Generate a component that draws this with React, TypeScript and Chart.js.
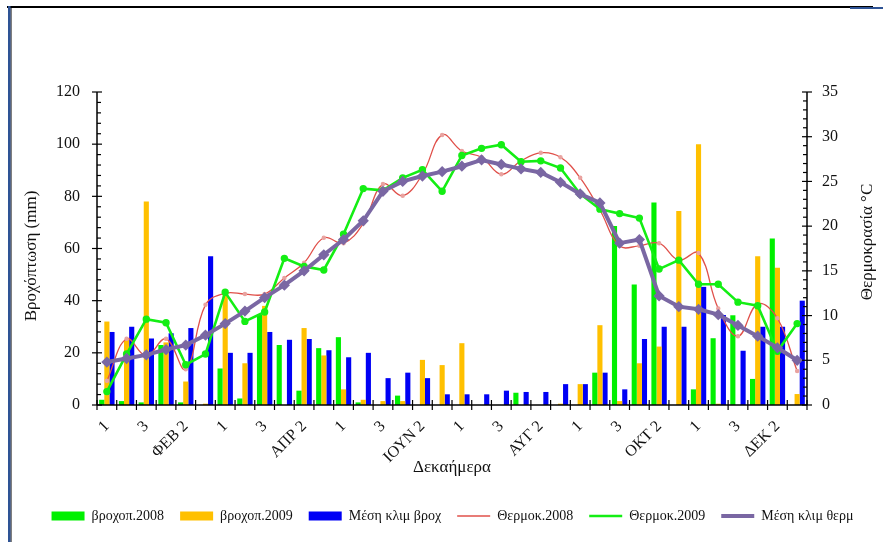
import React, { useEffect, useRef } from 'react';
import { Chart, registerables } from 'chart.js';

Chart.register(...registerables);

// ---- data ----
const dekadLabels = [
  '1', 'ΙΑΝ 2', '3', '1', 'ΦΕΒ 2', '3', '1', 'ΜΑΡ 2', '3', '1', 'ΑΠΡ 2', '3',
  '1', 'ΜΑΪ 2', '3', '1', 'ΙΟΥΝ 2', '3', '1', 'ΙΟΥΛ 2', '3', '1', 'ΑΥΓ 2', '3',
  '1', 'ΣΕΠ 2', '3', '1', 'ΟΚΤ 2', '3', '1', 'ΝΟΕ 2', '3', '1', 'ΔΕΚ 2', '3',
];

const rain2008 = [
  2, 1.5, 1, 23, 1, 0, 14, 2.5, 34.5, 23, 5.5, 21.8,
  26, 1, 0, 3.6, 0, 0, 0, 0, 0, 4.7, 0, 0,
  0, 12.4, 68.6, 46.2, 77.6, 0, 6, 25.6, 34.4, 10, 63.8, 0,
];
const rain2009 = [
  32, 25, 78, 24, 9, 0.5, 43, 16, 38, 0, 29.5, 19,
  6, 2, 1.5, 1.5, 17.3, 15.3, 23.7, 0, 0, 0, 0, 0.5,
  8, 30.6, 1.5, 16, 22.4, 74.4, 100, 0.5, 0, 57, 52.6, 4.2,
];
const climRain = [
  28, 30, 25.5, 27.5, 29.5, 57, 20, 20, 28, 25, 25.3, 21,
  18.3, 20, 10.3, 12.4, 10.3, 4.1, 4.1, 4.1, 5.5, 5, 5, 8,
  8, 12.4, 6, 25.3, 30, 30, 45.3, 34.5, 20.8, 30, 30, 40,
];
const temp2008 = [
  2.7, 7.4, 5.5, 7.4, 4.0, 11.2, 12.5, 12.4, 12.4, 14.2, 15.9, 18.7,
  18.1, 20.3, 24.7, 23.4, 25.8, 30.2, 28.4, 27.7, 25.8, 27.3, 28.2, 27.7,
  25.4, 21.8, 17.8, 17.8, 18.1, 16.2, 17.0, 10.8, 7.7, 11.3, 9.7, 3.8,
];
const temp2009 = [
  1.5, 5.7, 9.6, 9.2, 4.5, 5.7, 12.6, 9.35, 10.4, 16.4, 15.5, 15.1,
  19.1, 24.2, 24.0, 25.4, 26.3, 23.9, 27.9, 28.7, 29.1, 27.2, 27.3, 26.5,
  23.6, 21.9, 21.4, 20.9, 15.2, 16.2, 13.5, 13.5, 11.5, 11.1, 6.0, 9.1,
];
const climTemp = [
  4.8, 5.2, 5.6, 6.2, 6.7, 7.8, 9.1, 10.5, 12.0, 13.4, 15.0, 16.8,
  18.5, 20.6, 23.9, 25.0, 25.6, 26.1, 26.7, 27.4, 26.9, 26.4, 26.0, 24.9,
  23.6, 22.6, 18.1, 18.5, 12.2, 11.0, 10.7, 10.1, 8.9, 7.7, 6.4, 5.0,
];

const rainMax = 120;
const rainStep = 20;
const rainMinor = 4;
const tempMax = 35;
const tempStep = 5;
const tempMinor = 1;

const FONT = '"Liberation Serif", "Times New Roman", serif';

const decorPlugin = {
  id: 'decor',
  beforeDraw(chart: any) {
    const ctx = chart.ctx;
    ctx.save();
    ctx.fillStyle = '#ffffff';
    ctx.fillRect(0, 0, chart.width, chart.height);
    ctx.restore();
  },
  afterDatasetsDraw(chart: any) {
    const ctx = chart.ctx;
    const { left, right, top, bottom } = chart.chartArea;
    const ys = chart.scales.y;
    const y1s = chart.scales.y1;
    const xs = chart.scales.x;
    ctx.save();
    ctx.strokeStyle = '#000';
    ctx.lineWidth = 1.5;
    const line = (a: number, b: number, c: number, d: number) => {
      ctx.beginPath();
      ctx.moveTo(a, b);
      ctx.lineTo(c, d);
      ctx.stroke();
    };
    line(left, top, left, bottom);
    line(right, top, right, bottom);
    line(left, bottom, right, bottom);
    ctx.lineWidth = 1.2;
    for (let v = 0; v <= rainMax; v += rainMinor) {
      const py = ys.getPixelForValue(v);
      if (v % rainStep === 0) line(left - 5, py, left + 5, py);
      else line(left, py, left + 4, py);
    }
    for (let v = 0; v <= tempMax; v += tempMinor) {
      const py = y1s.getPixelForValue(v);
      if (v % tempStep === 0) line(right - 5, py, right + 5, py);
      else line(right - 4, py, right, py);
    }
    const n = dekadLabels.length;
    const c0 = xs.getPixelForValue(0);
    const c1 = xs.getPixelForValue(1);
    const w = c1 - c0;
    for (let i = 0; i <= n; i++) {
      const px = c0 - w / 2 + i * w;
      line(px, bottom - 5, px, bottom + 5);
    }
    ctx.restore();
  },
  afterDraw(chart: any) {
    const ctx = chart.ctx;
    // outer frame fragments
    ctx.save();
    ctx.fillStyle = '#000000';
    ctx.fillRect(7, 6, 866, 2);
    ctx.fillRect(10.5, 8, 1, chart.height - 8);
    ctx.fillStyle = '#2E5395';
    ctx.fillRect(8, 6, 2.5, chart.height - 6);
    ctx.fillRect(850, 7, 33, 2);
    ctx.restore();

    ctx.save();
    ctx.fillStyle = '#111';
    ctx.font = `17px ${FONT}`;
    ctx.textAlign = 'center';
    ctx.textBaseline = 'middle';
    ctx.translate(32, 256);
    ctx.rotate(-Math.PI / 2);
    ctx.fillText('Βροχόπτωση (mm)', 0, 0);
    ctx.restore();
    ctx.save();
    ctx.fillStyle = '#111';
    ctx.font = `17px ${FONT}`;
    ctx.textAlign = 'center';
    ctx.textBaseline = 'middle';
    ctx.translate(868, 242);
    ctx.rotate(-Math.PI / 2);
    ctx.fillText('Θερμοκρασία °C', 0, 0);
    ctx.restore();
  },
};

export default function App() {
  const ref = useRef<HTMLCanvasElement>(null);
  useEffect(() => {
    if (!ref.current) return;
    Chart.defaults.font.family = FONT;
    Chart.defaults.color = '#111';
    const chart = new Chart(ref.current, {
      type: 'bar',
      data: {
        labels: dekadLabels,
        datasets: [
          {
            type: 'bar', label: 'βροχοπ.2008', data: rain2008, yAxisID: 'y',
            backgroundColor: '#00F000', borderWidth: 0, order: 3,
            categoryPercentage: 0.78, barPercentage: 1.0,
          },
          {
            type: 'bar', label: 'βροχοπ.2009', data: rain2009, yAxisID: 'y',
            backgroundColor: '#FFC000', borderWidth: 0, order: 4,
            categoryPercentage: 0.78, barPercentage: 1.0,
          },
          {
            type: 'bar', label: 'Μέση κλιμ βροχ', data: climRain, yAxisID: 'y',
            backgroundColor: '#0000F5', borderWidth: 0, order: 5,
            categoryPercentage: 0.78, barPercentage: 1.0,
          },
          {
            type: 'line', label: 'Θερμοκ.2008', data: temp2008, yAxisID: 'y1',
            borderColor: '#E0504A', backgroundColor: '#E0504A', borderWidth: 1.3,
            tension: 0.4, pointRadius: 1.6, pointBackgroundColor: '#E9A3A0',
            pointBorderColor: '#E9A3A0', order: 2,
          },
          {
            type: 'line', label: 'Θερμοκ.2009', data: temp2009, yAxisID: 'y1',
            borderColor: '#14EE14', backgroundColor: '#14EE14', borderWidth: 2.6,
            tension: 0, pointRadius: 2.4, pointBackgroundColor: '#14EE14',
            pointBorderColor: '#14EE14', order: 1,
          },
          {
            type: 'line', label: 'Μέση κλιμ θερμ', data: climTemp, yAxisID: 'y1',
            borderColor: '#7A67A3', backgroundColor: '#7A67A3', borderWidth: 4,
            tension: 0, pointRadius: 2.8, pointStyle: 'rectRot',
            pointBackgroundColor: '#7A67A3', pointBorderColor: '#7A67A3', order: 0,
          },
        ] as any,
      },
      options: {
        responsive: false,
        animation: false,
        devicePixelRatio: 1,
        layout: { padding: { left: 22, right: 0, top: 92, bottom: 9 } },
        plugins: {
          tooltip: { enabled: false },
          legend: {
            position: 'bottom',
            labels: {
              font: { size: 14, family: FONT },
              color: '#111',
              usePointStyle: true,
              pointStyleWidth: 33,
              boxHeight: 9,
              padding: 16,
              sort: (a: any, b: any) => a.datasetIndex - b.datasetIndex,
              generateLabels: (chart: any) =>
                chart.data.datasets.map((ds: any, i: number) => {
                  const isBar = ds.type === 'bar';
                  const col = isBar ? ds.backgroundColor : ds.borderColor;
                  return {
                    text: ds.label,
                    datasetIndex: i,
                    fillStyle: col,
                    strokeStyle: col,
                    lineWidth: isBar ? 0 : ds.borderWidth,
                    pointStyle: isBar ? 'rect' : 'line',
                    hidden: false,
                    fontColor: '#111',
                  };
                }),
            },
          },
        },
        scales: {
          x: {
            type: 'category',
            offset: true,
            grid: { display: false, drawTicks: false },
            border: { display: false },
            ticks: {
              autoSkip: false,
              maxRotation: 45,
              minRotation: 45,
              padding: 12,
              font: { size: 16, family: FONT },
              color: '#111',
              callback: (_v: any, idx: number) => (idx % 2 === 0 ? dekadLabels[idx] : ''),
            },
            title: {
              display: true,
              text: 'Δεκαήμερα',
              font: { size: 17, family: FONT },
              color: '#111',
              padding: { top: 0, bottom: 15 },
            },
            afterFit: (s: any) => { s.height = 88; },
          },
          y: {
            position: 'left',
            min: 0,
            max: rainMax,
            grid: { display: false, drawTicks: false },
            border: { display: false },
            ticks: { stepSize: rainStep, padding: 17, font: { size: 16, family: FONT }, color: '#111' },
            afterFit: (s: any) => { s.width = 75; },
          },
          y1: {
            position: 'right',
            min: 0,
            max: tempMax,
            grid: { display: false, drawTicks: false },
            border: { display: false },
            ticks: { stepSize: tempStep, padding: 15, font: { size: 16, family: FONT }, color: '#111' },
            afterFit: (s: any) => { s.width = 76; },
          },
        },
      } as any,
      plugins: [decorPlugin],
    });
    return () => chart.destroy();
  }, []);
  return (
    <div style={{ position: 'fixed', left: 0, top: 0, width: 883, height: 542, background: '#fff' }}>
      <canvas ref={ref} width={883} height={542} style={{ display: 'block', width: 883, height: 542 }} />
    </div>
  );
}
